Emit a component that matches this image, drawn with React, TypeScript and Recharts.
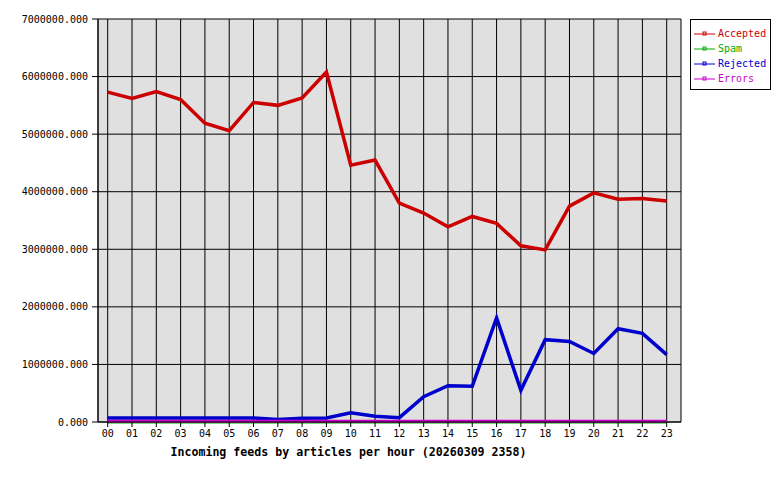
import React from 'react';
import { LineChart, Line, XAxis, YAxis, CartesianGrid, Label } from 'recharts';

const hours = ['00','01','02','03','04','05','06','07','08','09','10','11','12','13','14','15','16','17','18','19','20','21','22','23'];
const accepted = [5730000, 5620000, 5740000, 5600000, 5190000, 5060000, 5550000, 5500000, 5630000, 6080000, 4460000, 4550000, 3800000, 3630000, 3390000, 3570000, 3450000, 3060000, 2990000, 3750000, 3980000, 3870000, 3880000, 3840000];
const spam = [0,0,0,0,0,0,0,0,0,0,0,0,0,0,0,0,0,0,0,0,0,0,0,0];
const rejected = [70000, 70000, 70000, 70000, 70000, 70000, 70000, 45000, 65000, 70000, 160000, 100000, 75000, 440000, 630000, 620000, 1810000, 550000, 1430000, 1400000, 1190000, 1620000, 1540000, 1170000];
const errors = [15000,15000,15000,15000,15000,15000,15000,15000,15000,15000,15000,15000,15000,15000,15000,15000,15000,15000,15000,15000,15000,15000,15000,15000];
const yTicks = [0, 1000000, 2000000, 3000000, 4000000, 5000000, 6000000, 7000000];
const title = 'Incoming feeds by articles per hour (20260309 2358)';

const series = [
  { key: 'Accepted', color: '#cc0000', values: accepted, width: 3.5 },
  { key: 'Spam', color: '#00aa00', values: spam, width: 3 },
  { key: 'Rejected', color: '#0000cc', values: rejected, width: 3.5 },
  { key: 'Errors', color: '#cc00cc', values: errors, width: 3 },
];

const data = hours.map((h, i) => ({
  hour: h,
  Accepted: accepted[i],
  Spam: spam[i],
  Rejected: rejected[i],
  Errors: errors[i],
}));

const FONT = '"DejaVu Sans Mono", monospace';

const LegendBox = () => (
  <div style={{ position: 'absolute', left: 690, top: 19, width: 81, height: 71, border: '1px solid #000', background: '#fff', fontFamily: FONT, fontSize: 10, boxSizing: 'border-box', paddingTop: 6 }}>
    {series.map((s) => (
      <div key={s.key} style={{ display: 'flex', alignItems: 'center', height: 15, color: s.color, lineHeight: '15px' }}>
        <svg width={24} height={10} style={{ marginLeft: 2 }}>
          <line x1={1} y1={5} x2={22} y2={5} stroke={s.color} strokeWidth={1} />
          <rect x={10} y={3} width={3} height={3} fill="none" stroke={s.color} strokeWidth={1} />
        </svg>
        <span style={{ marginLeft: 1 }}>{s.key}</span>
      </div>
    ))}
  </div>
);

export default function App() {
  return (
    <div style={{ position: 'absolute', left: 0, top: 0, width: 780, height: 480, background: '#fff' }}>
      <LineChart width={780} height={480} data={data} margin={{ top: 19, right: 99, bottom: 0, left: 0 }}>
        <CartesianGrid stroke="#000" strokeWidth={1} fill="#e0e0e0" fillOpacity={1} />
        <XAxis
          dataKey="hour"
          height={58}
          padding={{ left: 9.7, right: 14.3 }}
          interval={0}
          tickSize={5}
          tickMargin={3}
          axisLine={{ stroke: '#000' }}
          tickLine={{ stroke: '#000' }}
          tick={{ fill: '#000', fontSize: 10, fontFamily: FONT }}
        >
          <Label
            content={(props: any) => {
              const vb = props.viewBox || { x: 98, width: 583, y: 422 };
              return (
                <text x={vb.x + vb.width / 2 - 41} y={456} textAnchor="middle" fontFamily={FONT} fontSize={11.6} fontWeight="bold" fill="#000">
                  {title}
                </text>
              );
            }}
          />
        </XAxis>
        <YAxis
          width={98}
          domain={[0, 7000000]}
          ticks={yTicks}
          interval={0}
          tickSize={6}
          tickMargin={4}
          tickFormatter={(v: number) => v.toFixed(3)}
          axisLine={{ stroke: '#000' }}
          tickLine={{ stroke: '#000' }}
          tick={{ fill: '#000', fontSize: 10, fontFamily: FONT }}
        />
        <YAxis yAxisId="r" orientation="right" width={0} domain={[0, 1]} tick={false} tickLine={false} axisLine={{ stroke: '#000' }} />
        {series.map((s) => (
          <Line
            key={s.key}
            type="linear"
            dataKey={s.key}
            stroke={s.color}
            strokeWidth={s.width}
            dot={false}
            activeDot={false}
            isAnimationActive={false}
          />
        ))}
      </LineChart>
      <LegendBox />
    </div>
  );
}
